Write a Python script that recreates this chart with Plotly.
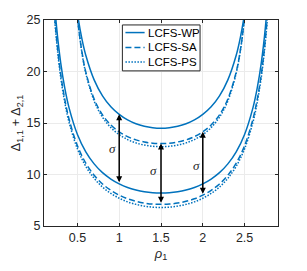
import plotly.graph_objects as go

# x positions (rho_1) at which curves were read
x_upper = [0.45, 0.5, 0.55, 0.6, 0.7, 0.8, 0.9, 1.0, 1.1, 1.2, 1.3, 1.4, 1.5,
           1.6, 1.7, 1.8, 1.9, 2.0, 2.1, 2.2, 2.3, 2.4, 2.45, 2.5, 2.55]
x_lower = [0.15, 0.2, 0.25, 0.3, 0.35, 0.4, 0.5, 0.6, 0.7, 0.8, 0.9, 1.0, 1.1, 1.2, 1.3, 1.4, 1.5,
           1.6, 1.7, 1.8, 1.9, 2.0, 2.1, 2.2, 2.3, 2.4, 2.5, 2.6, 2.65, 2.7, 2.75, 2.8, 2.85]

half_up_wp = [28.94, 25.65, 23.32, 21.58, 19.19, 17.64, 16.58, 15.84, 15.30, 14.93, 14.69, 14.55, 14.5]
half_up_sa = [30.7, 25.31, 22.10, 19.96, 17.33, 15.79, 14.81, 14.14, 13.68, 13.36, 13.16, 13.04, 13.0]
half_up_ps = [30.85, 25.32, 22.03, 19.84, 17.14, 15.57, 14.55, 13.87, 13.39, 13.07, 12.86, 12.74, 12.7]

half_lo_wp = [38.5, 29.66, 24.36, 20.84, 18.34, 16.47, 13.89, 12.2, 11.03, 10.18, 9.56, 9.09, 8.74, 8.50, 8.33, 8.23, 8.2]
half_lo_sa = [37.4, 28.56, 23.26, 19.74, 17.24, 15.37, 12.79, 11.1, 9.93, 9.08, 8.46, 7.99, 7.64, 7.40, 7.23, 7.13, 7.1]
half_lo_ps = [37.1, 28.26, 22.96, 19.44, 16.94, 15.07, 12.49, 10.8, 9.63, 8.78, 8.16, 7.69, 7.34, 7.10, 6.93, 6.83, 6.8]


def mirror(h):
    return h + h[-2::-1]


up_wp, up_sa, up_ps = mirror(half_up_wp), mirror(half_up_sa), mirror(half_up_ps)
lo_wp, lo_sa, lo_ps = mirror(half_lo_wp), mirror(half_lo_sa), mirror(half_lo_ps)

series_names = ["LCFS-WP", "LCFS-SA", "LCFS-PS"]
dash_styles = ["solid", "6px,3px", "1.5px,1.5px"]

# sigma arrows
arrow_x = [1.0, 1.5, 2.0]
arrow_top = [15.84, 13.0, 14.14]
arrow_bottom = [9.09, 7.1, 7.99]
sigma_x = [0.92, 1.41, 1.93]
sigma_y = [12.5, 10.35, 10.85]

x_ticks = [0.5, 1, 1.5, 2, 2.5]
y_ticks = [5, 10, 15, 20, 25]

blue = "#0072BD"
axcol = "#262626"

fig = go.Figure()
for name, dash, yu, yl in zip(series_names, dash_styles, [up_wp, up_sa, up_ps], [lo_wp, lo_sa, lo_ps]):
    fig.add_trace(go.Scatter(x=x_upper, y=yu, mode="lines", name=name, showlegend=False,
                             line=dict(color=blue, width=1.5, dash=dash, shape="spline")))
    fig.add_trace(go.Scatter(x=x_lower, y=yl, mode="lines", name=name, showlegend=False,
                             line=dict(color=blue, width=1.5, dash=dash, shape="spline")))

annotations = []
for xa, yt, yb in zip(arrow_x, arrow_top, arrow_bottom):
    annotations.append(dict(x=xa, y=yt, ax=xa, ay=yb, xref="x", yref="y", axref="x", ayref="y",
                            text="", showarrow=True, arrowhead=2, arrowside="end+start",
                            arrowsize=0.8, arrowwidth=1.5, arrowcolor="black", standoff=0, startstandoff=0))
for sx, sy in zip(sigma_x, sigma_y):
    annotations.append(dict(x=sx, y=sy, xref="x", yref="y", text="<i>σ</i>", showarrow=False,
                            font=dict(size=13, color=axcol, family="Liberation Serif")))

# legend drawn in the plot-area frame (paper coordinates)
shapes = [dict(type="rect", xref="paper", yref="paper", x0=0.335, x1=0.667, y0=0.753, y1=0.976,
               line=dict(color=axcol, width=1), fillcolor="white", layer="above")]
leg_rows = [0.939, 0.867, 0.796]
for name, dash, ry in zip(series_names, dash_styles, leg_rows):
    shapes.append(dict(type="line", xref="paper", yref="paper", x0=0.348, x1=0.43, y0=ry, y1=ry,
                       line=dict(color=blue, width=1.5, dash=dash), layer="above"))
    annotations.append(dict(x=0.437, y=ry, xref="paper", yref="paper", text=name, showarrow=False,
                            xanchor="left", yanchor="middle",
                            font=dict(size=11.5, color="black", family="Liberation Sans, Arial")))

fig.update_layout(
    width=307, height=271,
    margin=dict(l=36, r=37, t=12, b=53, autoexpand=False),
    paper_bgcolor="white", plot_bgcolor="white",
    font=dict(family="Liberation Sans, Arial", size=12, color=axcol),
    showlegend=False,
    annotations=annotations,
    shapes=shapes,
)
fig.update_xaxes(range=[0.1, 2.9], tickvals=x_ticks, ticktext=["0.5", "1", "1.5", "2", "2.5"],
                 showline=True, linecolor=axcol, linewidth=1, mirror="ticks",
                 ticks="inside", ticklen=3, tickcolor=axcol, automargin=False,
                 showgrid=True, gridcolor="#EBEBEB", gridwidth=1, zeroline=False,
                 tickfont=dict(size=12.5),
                 title=dict(text="<i>ρ</i><sub>1</sub>", font=dict(size=13), standoff=4))
fig.update_yaxes(range=[5, 25], tickvals=y_ticks,
                 showline=True, linecolor=axcol, linewidth=1, mirror="ticks",
                 ticks="inside", ticklen=3, tickcolor=axcol, automargin=False,
                 showgrid=True, gridcolor="#EBEBEB", gridwidth=1, zeroline=False,
                 tickfont=dict(size=12.5),
                 title=dict(text="Δ<sub>1,1</sub> + Δ<sub>2,1</sub>", font=dict(size=13), standoff=8))

fig.write_html("out.html")
